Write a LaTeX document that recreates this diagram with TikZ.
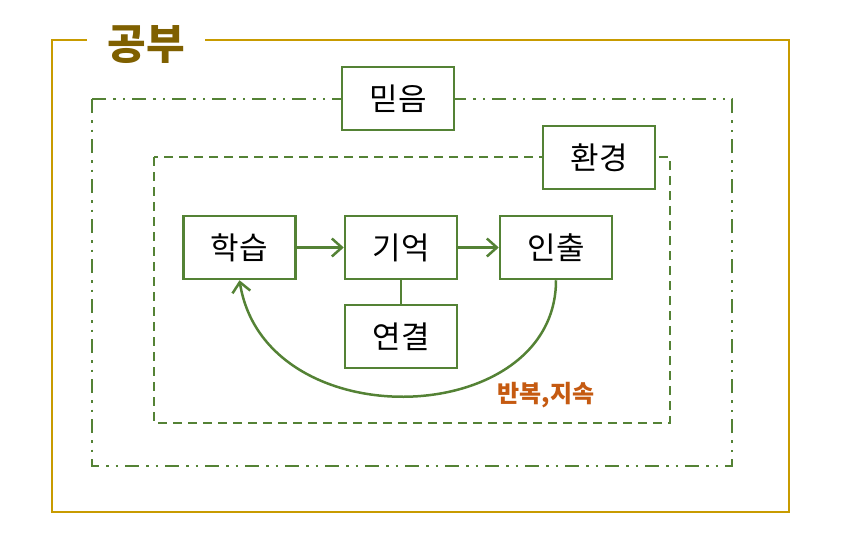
\documentclass[tikz,border=0pt]{standalone}
\usepackage{fontspec}
\usetikzlibrary{arrows.meta}
\newfontfamily\kr{Noto Sans CJK KR}
\definecolor{gold}{HTML}{C89B00}
\definecolor{ttl}{HTML}{7F6000}
\definecolor{grn}{HTML}{548235}
\definecolor{rd}{HTML}{C55A11}
\begin{document}
\begin{tikzpicture}[x=1pt,y=-1pt,
  box/.style={draw=grn,line width=2.5pt,fill=white,minimum width=112pt,minimum height=63pt,font=\kr\fontsize{31}{36}\selectfont},
  arr/.style={draw=grn,line width=2.5pt,-{Straight Barb[length=10pt,width=18pt]}}]
\useasboundingbox (0,0) rectangle (868,536);
\draw[gold,line width=2.8pt] (52,40) rectangle (789,512);
\node[fill=white,inner xsep=20pt,text=ttl,font=\kr\bfseries\fontsize{42}{46}\selectfont] (title) at (146,45) {공부};
\draw[grn,line width=2.5pt,dash pattern=on 14pt off 7pt on 2.5pt off 7pt on 2.5pt off 7pt] (92,99) rectangle (732,466);
\draw[grn,line width=2.5pt,dash pattern=on 9pt off 6pt] (154,157) rectangle (670,423);
\node[box] (mid) at (398,98.5) {믿음};
\node[box] (env) at (599,157.5) {환경};
\node[box] (a) at (239.5,247.5) {학습};
\node[box] (b) at (401,247.5) {기억};
\node[box] (c) at (556,247.5) {인출};
\node[box] (d) at (401,336.5) {연결};
\draw[arr] (a) -- (b);
\draw[arr] (b) -- (c);
\draw[grn,line width=2.5pt] (b) -- (d);
\draw[arr] (c.south) .. controls (556,430) and (265,440) .. (a.south);
\node[text=rd,font=\kr\bfseries\fontsize{24}{28}\selectfont] (lbl) at (546,395) {반복,지속};
\end{tikzpicture}
\end{document}
